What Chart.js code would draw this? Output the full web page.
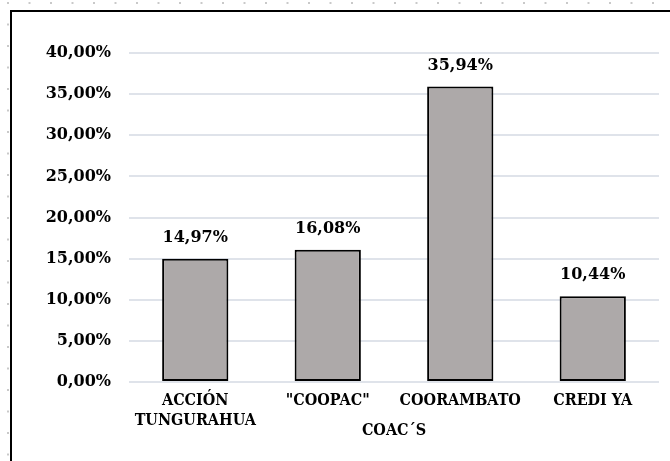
<!DOCTYPE html>
<html>
<head>
<meta charset="utf-8">
<script src="https://cdn.jsdelivr.net/npm/chart.js@4"></script>
<style>
  html, body { margin: 0; padding: 0; }
  body {
    width: 670px; height: 461px; overflow: hidden; position: relative;
    background-color: #fff;
    background-image: radial-gradient(circle, #c8c8c8 0.9px, transparent 1.4px);
    background-size: 21.5px 21.5px;
    background-position: -2.75px -7.75px;
  }
  #box {
    position: absolute; left: 10px; top: 10px;
    width: 700px; height: 500px;
    border-left: 2px solid #000; border-top: 2px solid #000;
    background: #fff;
  }
  #chart { position: absolute; left: 0; top: 0; }
</style>
</head>
<body>
<div id="box"><canvas id="chart" width="658" height="449"></canvas></div>
<script>
// Chart data
const categories = [['ACCIÓN', 'TUNGURAHUA'], '"COOPAC"', 'COORAMBATO', 'CREDI YA']
const values = [14.97, 16.08, 35.94, 10.44]
const yTicks = [0, 5, 10, 15, 20, 25, 30, 35, 40]
const axisTitle = 'COAC´S'

const fmt = v => v.toFixed(2).replace('.', ',') + '%'
const numFont = { family: '"DejaVu Serif"', size: 16, weight: 'bold' }
const capFont = { family: '"DejaVu Serif Condensed", "DejaVu Serif"', size: 16, weight: 'bold', lineHeight: 1.25 }

// draw the value above each bar
const barLabels = {
  id: 'barLabels',
  afterDatasetsDraw(chart) {
    const ctx = chart.ctx
    ctx.save()
    ctx.font = 'bold 16px "DejaVu Serif"'
    ctx.fillStyle = '#000'
    ctx.textAlign = 'center'
    ctx.textBaseline = 'middle'
    chart.getDatasetMeta(0).data.forEach((bar, i) => {
      ctx.fillText(fmt(values[i]), bar.x, bar.y - 21)
    })
    ctx.restore()
  }
}

const chart = new Chart(document.querySelector('#chart'), {
  type: 'bar',
  data: {
    labels: categories,
    datasets: [{
      data: values,
      backgroundColor: '#ADA9A9',
      borderColor: '#000',
      borderWidth: 2,
      borderSkipped: false,
      barPercentage: 0.5,
      categoryPercentage: 1
    }]
  },
  options: {
    responsive: false,
    animation: false,
    layout: { padding: { top: 41, right: 11, left: 0, bottom: 0 } },
    plugins: {
      legend: { display: false },
      tooltip: { enabled: false }
    },
    scales: {
      x: {
        grid: { display: false },
        border: { display: false },
        ticks: { color: '#000', font: capFont, padding: 1, maxRotation: 0, autoSkip: false },
        title: {
          display: true,
          text: axisTitle,
          color: '#000',
          font: capFont,
          padding: { top: 0, bottom: 20 }
        },
        afterFit(scale) { scale.height = 79 }
      },
      y: {
        min: 0,
        max: 40,
        afterBuildTicks(scale) { scale.ticks = yTicks.map(v => ({ value: v })) },
        grid: { color: '#DFE3EA', lineWidth: 2, drawTicks: false },
        border: { display: false },
        ticks: { color: '#000', font: numFont, padding: 18, callback: v => fmt(v) },
        afterFit(scale) { scale.width = 117 }
      }
    }
  },
  plugins: [barLabels]
})
</script>
</body>
</html>
